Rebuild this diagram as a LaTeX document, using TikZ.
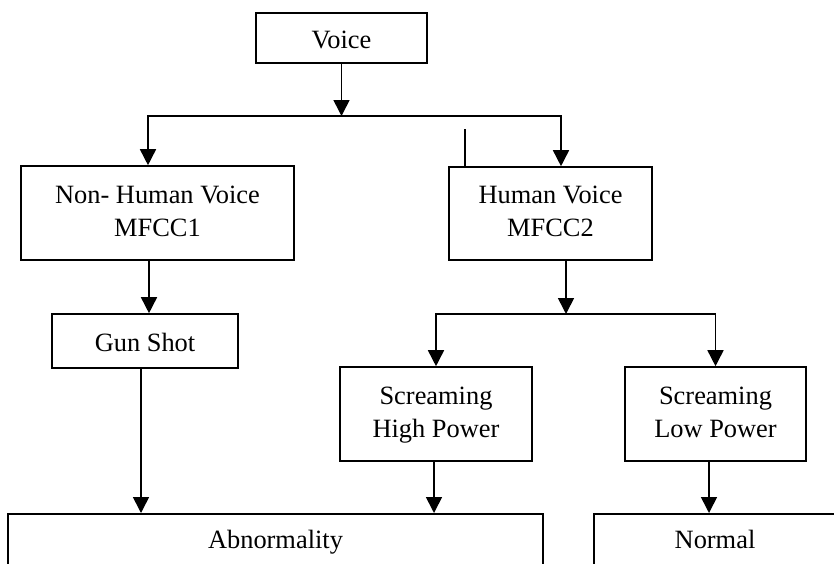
\documentclass[tikz,border=0pt]{standalone}
\usepackage{fontspec}
\setmainfont{Liberation Serif}
\usetikzlibrary{arrows.meta}
\newcommand{\onestrut}{\rule{0pt}{21pt}}
\begin{document}
\begin{tikzpicture}[x=1pt,y=-1pt,
  box/.style={draw,line width=1.6pt,align=center,inner sep=0pt,
    font=\fontsize{26.4}{33}\selectfont},
  lbl/.style={font=\fontsize{26.4}{33}\selectfont,inner sep=0pt,anchor=base},
  conn/.style={line width=1.6pt},
  arr/.style={conn,-{Triangle[length=16pt,width=16pt]}}]
\useasboundingbox (0,0) rectangle (834,563);
\clip (0,0) rectangle (834,563);
\fill[white] (0,0) rectangle (834,563);
% boxes
\node[box,minimum width=171pt,minimum height=50pt] (voice) at (341.5,38) {\onestrut Voice};
\node[box,minimum width=273pt,minimum height=94pt] (nh) at (157.5,213) {\strut Non- Human Voice\\\strut MFCC1};
\node[box,minimum width=203pt,minimum height=93pt] (hv) at (550.5,213.5) {\strut Human Voice\\\strut MFCC2};
\node[box,minimum width=186pt,minimum height=54pt] (gun) at (145,341) {\onestrut Gun Shot};
\node[box,minimum width=192pt,minimum height=94pt] (shp) at (436,414) {\strut Screaming\\\strut High Power};
\node[box,minimum width=181pt,minimum height=94pt] (slp) at (715.5,414) {\strut Screaming\\\strut Low Power};
\node[box,minimum width=535pt,minimum height=64pt,anchor=north] (abn) at (275.5,513) {};
\node[lbl] (abnt) at (275.5,548) {Abnormality};
\node[box,minimum width=242pt,minimum height=64pt,anchor=north] (nor) at (715,513) {};
\node[lbl] (nort) at (715,548) {Normal};
% helper coordinates
\coordinate (j1) at (341.5,116);
\coordinate (xl) at (148,0);
\coordinate (xr) at (561,0);
\coordinate (stray) at (465,129);
\coordinate (xh) at (566,0);
\coordinate (j2) at (566,314);
\coordinate (xa) at (149,0);
\coordinate (xb) at (141,0);
\coordinate (xc) at (434,0);
\coordinate (xd) at (709,0);
% connectors
\draw[arr] (voice) -- (j1);
\draw[arr] (j1) -| (nh.north -| xl);
\draw[arr] (j1) -| (hv.north -| xr);
\draw[conn] (stray) -- (stray |- hv.north);
\draw[arr] (hv.south -| xh) -- (j2);
\draw[arr] (j2) -| (shp.north);
\draw[arr] (j2) -| (slp.north);
\draw[arr] (nh.south -| xa) -- (gun.north -| xa);
\draw[arr] (gun.south -| xb) -- (abn.north -| xb);
\draw[arr] (shp.south -| xc) -- (abn.north -| xc);
\draw[arr] (slp.south -| xd) -- (nor.north -| xd);
\end{tikzpicture}
\end{document}
